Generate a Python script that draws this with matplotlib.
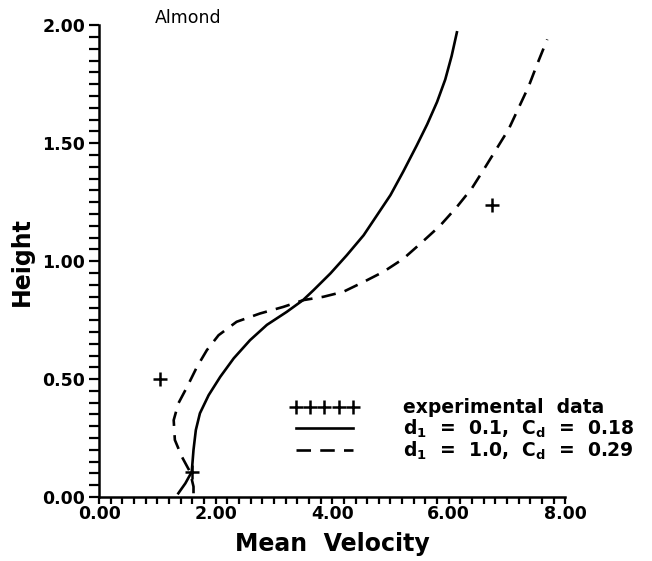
import matplotlib.pyplot as plt
from matplotlib.ticker import MultipleLocator, FormatStrFormatter

# solid curve: d1 = 0.1, Cd = 0.18
u_solid = [1.36, 1.48, 1.59, 1.62, 1.66, 1.73, 1.88, 2.08, 2.31, 2.59, 2.88, 3.22,
           3.50, 3.68, 3.97, 4.25, 4.54, 4.77, 5.00, 5.22, 5.45, 5.63, 5.80, 5.94,
           6.05, 6.14]
z_solid = [0.016, 0.058, 0.107, 0.20, 0.284, 0.355, 0.432, 0.51, 0.588, 0.665, 0.73,
           0.785, 0.835, 0.877, 0.948, 1.025, 1.11, 1.195, 1.28, 1.38, 1.49, 1.58,
           1.675, 1.77, 1.87, 1.97]

# dashed curve: d1 = 1.0, Cd = 0.29
u_dash = [1.62, 1.62, 1.56, 1.42, 1.30, 1.28, 1.36, 1.51, 1.68, 1.85, 2.05, 2.36,
          2.76, 3.16, 3.51, 3.85, 4.19, 4.54, 4.88, 5.22, 5.54, 5.85, 6.14, 6.40,
          6.63, 6.83, 7.03, 7.20, 7.37, 7.51, 7.69]
z_dash = [0.016, 0.044, 0.107, 0.171, 0.242, 0.326, 0.397, 0.467, 0.552, 0.623,
          0.686, 0.743, 0.778, 0.806, 0.835, 0.849, 0.87, 0.912, 0.955, 1.01, 1.08,
          1.15, 1.23, 1.31, 1.40, 1.48, 1.56, 1.65, 1.74, 1.83, 1.94]

# measured points
u_exp = [1.60, 1.05, 6.75]
z_exp = [0.106, 0.50, 1.24]

plt.rcParams['font.family'] = 'DejaVu Sans'
plt.rcParams['font.weight'] = 'bold'
plt.rcParams['axes.labelweight'] = 'bold'
plt.rcParams['mathtext.default'] = 'bf'

fig = plt.figure(figsize=(6.52, 5.61), dpi=100)
ax = fig.add_axes([0.152, 0.114, 0.715, 0.841])

ax.plot(u_exp, z_exp, ls='none', marker='+', ms=10, mew=1.8, color='black',
        label='experimental  data')
ax.plot(u_solid, z_solid, '-', lw=1.9, color='black',
        label=r'd$_1$  =  0.1,  C$_d$  =  0.18')
ax.plot(u_dash, z_dash, '--', lw=1.9, color='black', dashes=(5.5, 3.5),
        label=r'd$_1$  =  1.0,  C$_d$  =  0.29')

ax.set_xlim(0, 8)
ax.set_ylim(0, 2)
for s in ['top', 'right']:
    ax.spines[s].set_visible(False)
ax.spines['left'].set_linewidth(1.8)
ax.spines['bottom'].set_linewidth(1.8)

ax.xaxis.set_major_locator(MultipleLocator(2))
ax.xaxis.set_minor_locator(MultipleLocator(0.2))
ax.yaxis.set_major_locator(MultipleLocator(0.5))
ax.yaxis.set_minor_locator(MultipleLocator(0.05))
ax.xaxis.set_major_formatter(FormatStrFormatter('%.2f'))
ax.yaxis.set_major_formatter(FormatStrFormatter('%.2f'))
ax.tick_params(axis='x', which='both', direction='out', length=5, width=1.6, pad=1,
               labelsize=12.5)
ax.tick_params(axis='y', which='both', direction='out', length=7, width=1.6, pad=3,
               labelsize=12.5)

ax.set_xlabel('Mean  Velocity', fontsize=17, labelpad=6)
ax.set_ylabel('Height', fontsize=17, labelpad=6)

ax.text(0.96, 2.03, 'Almond', fontsize=12.5, fontweight='normal', va='center',
        ha='left', clip_on=False)

ax.legend(loc='upper left', bbox_to_anchor=(0.395, 0.225), frameon=False,
          numpoints=5, handlelength=3.6, handletextpad=2.4, labelspacing=0.0,
          fontsize=13.5, borderaxespad=0)

fig.savefig('out.png', dpi=100)
